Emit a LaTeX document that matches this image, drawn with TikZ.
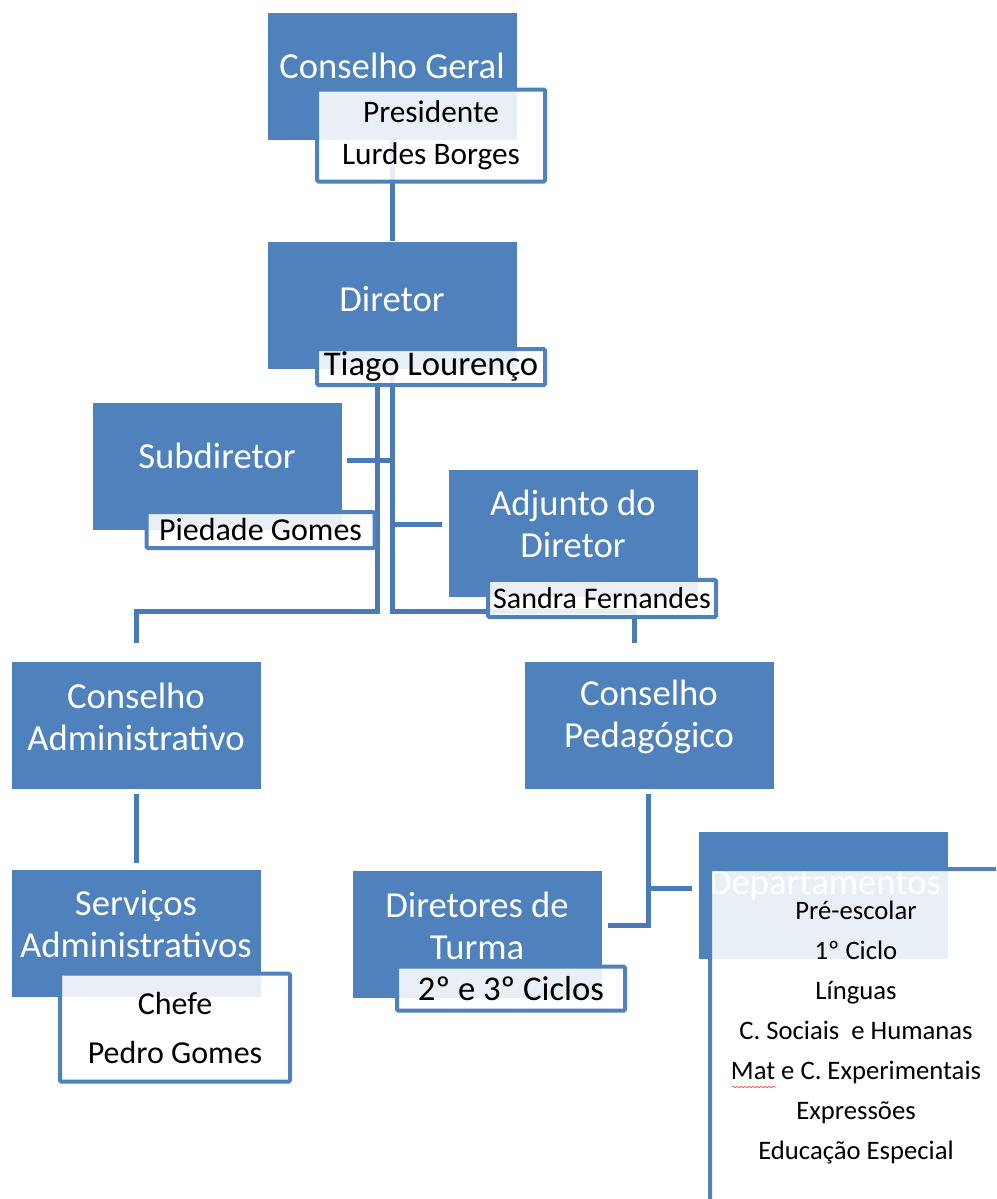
\documentclass[tikz,border=0pt]{standalone}
\usepackage{fontspec}
\setmainfont{Carlito}
\usepackage{tikz}
\usetikzlibrary{positioning,calc,decorations.pathmorphing}
\definecolor{orgblue}{HTML}{4F81BD}
\definecolor{linkblue}{HTML}{4A7BB7}

\begin{document}
\begin{tikzpicture}[
  x=0.75pt, y=-0.75pt,
  unit/.style={rectangle, fill=orgblue, minimum width=186.75pt, minimum height=95.25pt, inner sep=0pt},
  title/.style={text=white, align=center, inner sep=0pt, font=\fontsize{27.5}{31.5}\selectfont},
  namebox/.style={rectangle, draw=orgblue, line width=3pt, fill=white, fill opacity=0.88, text opacity=1, rounded corners=1pt, minimum width=171pt, inner sep=0pt, align=center},
  conn/.style={draw=linkblue, line width=3.75pt},
]
\clip (0,0) rectangle (996,1199);

% units
\node[unit] (cg) at (392.5,76) {};
\node[title] (cgtxt) at (392,66) {Conselho Geral};
\node[unit] (dir) at (392.5,305) {};
\node[title] (dirtxt) at (392,299) {Diretor};
\node[unit] (sub) at (217,466) {};
\node[title] (subtxt) at (217,456) {Subdiretor};
\node[unit] (adj) at (573,533) {};
\node[title] (adjtxt) at (573,524) {Adjunto do\\Diretor};
\node[unit] (ca) at (136.5,725.5) {};
\node[title] (catxt) at (136,717) {Conselho\\Administrativo};
\node[unit] (cp) at (649,725.5) {};
\node[title] (cptxt) at (649,717) {Conselho\\Pedagógico};
\node[unit] (sa) at (136.5,933.5) {};
\node[title] (satxt) at (136,924) {Serviços\\Administrativos};
\node[unit] (dt) at (477.5,934) {};
\node[title] (dttxt) at (477,926) {Diretores de\\Turma};
\node[unit] (dep) at (823,895.5) {};
\node[title] (deptxt) at (825,886) {Departamentos};

% connectors
\draw[conn] (cg.south) -- (dir.north);
\draw[conn] ($(dir.south)+(-15,0)$) |- ($(ca.north)+(0,-50)$) -- ($(ca.north)+(0,-19)$);
\draw[conn] (dir.south) |- ($(cp.north)+(-15,-50)$) -- ($(cp.north)+(-15,-19)$);
\coordinate (subjoin) at ($(sub.east)+(5,-6)$);
\draw[conn] (subjoin) -- (subjoin -| dir.south);
\coordinate (adjjoin) at ($(adj.west)+(-6,-9)$);
\draw[conn] (adjjoin) -- (adjjoin -| dir.south);
\draw[conn] ($(ca.south)+(0,5)$) -- ($(sa.north)+(0,-7)$);
\coordinate (cpjoin) at ($(cp.south)+(-1,5)$);
\draw[conn] (cpjoin) |- ($(dt.east)+(6,-9)$);
\draw[conn] (cpjoin) |- ($(dep.west)+(-6,-7.5)$);

% names
\node[namebox, minimum height=69pt, font=\fontsize{23.5}{31.5}\selectfont] (pres) at (431,135.5) {Presidente\\Lurdes Borges};
\node[namebox, minimum height=27pt, font=\fontsize{26}{30}\selectfont] (tiago) at (431,367) {Tiago Lourenço};
\node[namebox, minimum height=27pt, font=\fontsize{24}{30}\selectfont] (piedade) at (260.5,530) {Piedade Gomes};
\node[namebox, minimum height=28pt, font=\fontsize{22.5}{30}\selectfont] (sandra) at (602,598.5) {Sandra Fernandes};
\node[namebox, minimum height=81pt, minimum width=172.5pt, font=\fontsize{24}{36.75}\selectfont] (chefe) at (175,1027.5) {Chefe\\Pedro Gomes};
\node[namebox, minimum height=33pt, font=\fontsize{26}{30}\selectfont] (ciclos) at (511,988.5) {2º e 3º Ciclos};
\node[namebox, minimum width=300pt, minimum height=300pt, anchor=north west] (deplist) at (708,867) {};

\node[align=center, inner sep=0pt, font=\fontsize{20}{30}\selectfont] (depitems) at (856,1032) {Pré-escolar\\1º Ciclo\\Línguas\\C. Sociais\ \ e Humanas\\Mat e C. Experimentais\\Expressões\\Educação Especial};
\draw[red!75, line width=0.5pt, decorate, decoration={snake, amplitude=0.5pt, segment length=3pt}] (732,1087) -- (776,1087);

\end{tikzpicture}
\end{document}
